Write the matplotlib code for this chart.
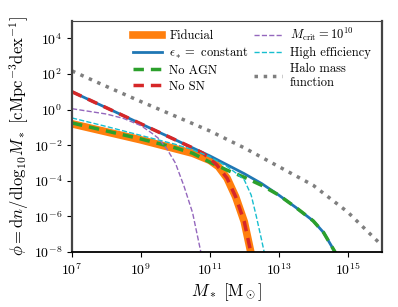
import numpy as np
import matplotlib
matplotlib.use('Agg')
import matplotlib.pyplot as plt

# data (log10 M*, log10 phi)
fid_logm = [7, 8, 9, 10, 10.5, 11, 11.25, 11.5, 11.75, 12, 12.2]
fid_logphi = [-0.8, -1.25, -1.7, -2.2, -2.45, -2.85, -3.2, -3.85, -4.9, -6.3, -8.1]

const_logm = [7, 8, 9, 10, 10.5, 11, 11.5, 12, 12.5, 13, 13.5, 14, 14.3, 14.65]
const_logphi = [1.0, 0.1, -0.8, -1.7, -2.15, -2.6, -3.1, -3.6, -4.15, -4.8, -5.5,
                -6.25, -6.9, -8.05]

noagn_logm = [7, 8, 9, 10, 10.5, 11, 11.5, 12, 12.5, 13, 13.5, 14, 14.3, 14.65]
noagn_logphi = [-0.75, -1.2, -1.65, -2.15, -2.45, -2.95, -3.4, -3.8, -4.25, -4.8,
                -5.5, -6.25, -6.9, -8.05]

nosn_logm = [7, 8, 9, 10, 10.5, 10.8, 11, 11.2, 11.5, 11.75, 12, 12.2]
nosn_logphi = [1.0, 0.1, -0.8, -1.7, -2.15, -2.45, -2.75, -3.1, -3.85, -4.9, -6.3, -8.1]

mcrit_logm = [7, 8, 8.5, 9, 9.3, 9.5, 9.75, 10, 10.25, 10.5, 10.75]
mcrit_logphi = [0.05, -0.25, -0.5, -0.9, -1.3, -1.6, -2.2, -3.0, -4.3, -5.8, -8.1]

higheff_logm = [7, 8, 9, 10, 10.5, 11, 11.5, 11.75, 12, 12.2, 12.35, 12.5, 12.6]
higheff_logphi = [-0.47, -0.95, -1.45, -1.95, -2.25, -2.65, -3.2, -3.55, -3.95,
                  -4.8, -6.0, -7.3, -8.2]

halo_logm = [7, 8, 9, 10, 11, 12, 13, 14, 15, 15.9]
halo_logphi = [2.17, 1.3, 0.45, -0.37, -1.2, -2.15, -3.2, -4.25, -5.75, -7.45]

# basic plot settings
plt.rcParams['font.family'] = 'serif'
plt.rcParams['font.serif'] = ['cmr10']
plt.rcParams['mathtext.fontset'] = 'cm'
plt.rcParams['axes.formatter.use_mathtext'] = True
plt.rcParams['axes.unicode_minus'] = False
plt.rcParams['font.size'] = 10

fig = plt.figure(figsize=(3.98, 3.07), dpi=100)
ax = fig.add_axes([0.181, 0.179, 0.779, 0.754])


def p(v):
    return 10.0 ** np.asarray(v)


ax.plot(p(fid_logm), p(fid_logphi), c='tab:orange', lw=5.5, label='Fiducial')
ax.plot(p(const_logm), p(const_logphi), c='tab:blue', lw=2,
        label=r'$\epsilon_* =$ constant')
ax.plot(p(noagn_logm), p(noagn_logphi), c='tab:green', lw=2.5, ls=(0, (3, 2)),
        label='No AGN')
ax.plot(p(nosn_logm), p(nosn_logphi), c='tab:red', lw=2.5, ls=(0, (3, 2)),
        label='No SN')
ax.plot(p(mcrit_logm), p(mcrit_logphi), c='tab:purple', lw=1, ls='--',
        label=r'$M_{\rm crit} = 10^{10}$')
ax.plot(p(higheff_logm), p(higheff_logphi), c='tab:cyan', lw=1, ls='--',
        label='High efficiency')
ax.plot(p(halo_logm), p(halo_logphi), c='tab:gray', lw=2.5, ls=':',
        label='Halo mass\nfunction')

ax.set_xscale('log')
ax.set_yscale('log')
ax.set_xlim(1e7, 1e16)
ax.set_ylim(1e-8, 1e5)
ax.set_xticks([1e7, 1e9, 1e11, 1e13, 1e15])
ax.set_yticks([1e-8, 1e-6, 1e-4, 1e-2, 1e0, 1e2, 1e4])
ax.minorticks_off()

ax.set_xlabel(r'$M_*\ [\mathrm{M}_\odot]$', fontsize=12, labelpad=2)
ax.set_ylabel(r'$\phi = \mathrm{d}n/\mathrm{dlog}_{10}M_*\ '
              r'[\mathrm{cMpc}^{-3}\mathrm{dex}^{-1}]$', fontsize=12, labelpad=2)

for side in ['left', 'right']:
    ax.spines[side].set_color('#444444')
    ax.spines[side].set_linewidth(1.6)
ax.spines['top'].set_color('#444444')
ax.spines['bottom'].set_color('black')
ax.spines['bottom'].set_linewidth(1.3)

ax.legend(ncol=2, frameon=False, fontsize=9, loc='upper right',
          bbox_to_anchor=(1.0, 1.025), handlelength=2.3, columnspacing=0.4,
          handletextpad=0.6, labelspacing=0.3)

plt.savefig('out.png', dpi=100)
